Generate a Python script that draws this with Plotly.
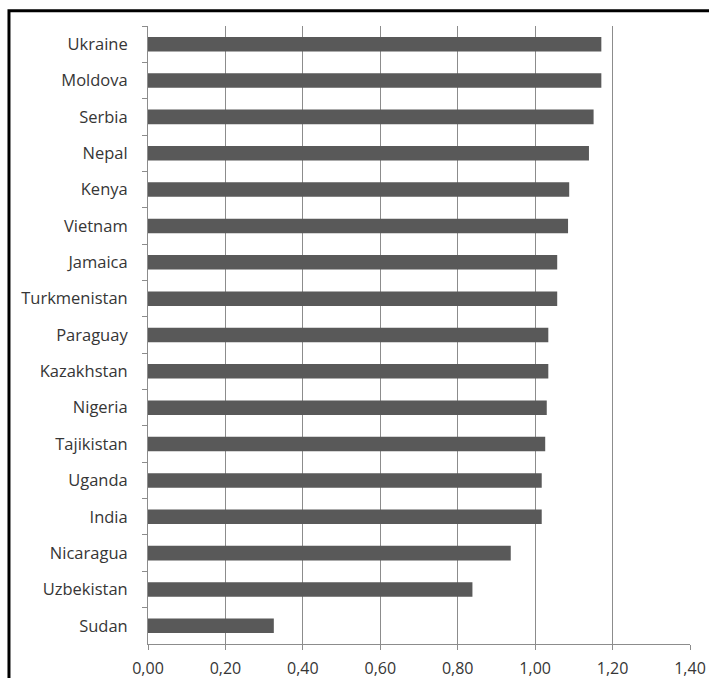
import plotly.graph_objects as go

countries = ["Ukraine", "Moldova", "Serbia", "Nepal", "Kenya", "Vietnam", "Jamaica",
             "Turkmenistan", "Paraguay", "Kazakhstan", "Nigeria", "Tajikistan",
             "Uganda", "India", "Nicaragua", "Uzbekistan", "Sudan"]
values = [1.171, 1.171, 1.151, 1.139, 1.088, 1.085, 1.057,
          1.057, 1.034, 1.034, 1.030, 1.026,
          1.017, 1.017, 0.937, 0.838, 0.325]
x_ticks = [0.0, 0.2, 0.4, 0.6, 0.8, 1.0, 1.2, 1.4]

fig = go.Figure(go.Bar(
    x=values, y=countries, orientation="h",
    marker=dict(color="#595959", line=dict(width=0)),
    width=0.4,
))

fig.update_layout(
    width=709, height=678,
    margin=dict(l=148, r=19, t=26, b=34),
    paper_bgcolor="white", plot_bgcolor="white",
    separators=", ",
    font=dict(family="Open Sans", size=16, color="#363636"),
    showlegend=False,
)

fig.update_xaxes(
    range=[0, 1.4], tickvals=x_ticks, tickformat=".2f",
    showgrid=True, gridcolor="#8c8c8c", gridwidth=1,
    zeroline=False, showline=True, linecolor="#8c8c8c", linewidth=1,
    ticks="outside", ticklen=5, tickcolor="#8c8c8c",
    ticklabelstandoff=5,
    tickfont=dict(size=16, color="#363636"),
    automargin=False,
)

fig.update_yaxes(
    categoryorder="array", categoryarray=countries, autorange="reversed",
    showgrid=False, zeroline=False,
    showline=True, linecolor="#8c8c8c", linewidth=1,
    ticks="outside", ticklen=5, tickcolor="#8c8c8c", tickson="boundaries",
    ticklabelstandoff=16,
    tickfont=dict(size=16.5, color="#363636"),
    automargin=False,
)

# Black outer frame around the chart
fig.add_shape(
    type="rect", xref="paper", yref="paper",
    x0=-0.2565, x1=1.041, y0=-0.062, y1=1.0245,
    line=dict(color="black", width=3), fillcolor="rgba(0,0,0,0)",
    layer="above",
)

fig.write_html("out.html")
